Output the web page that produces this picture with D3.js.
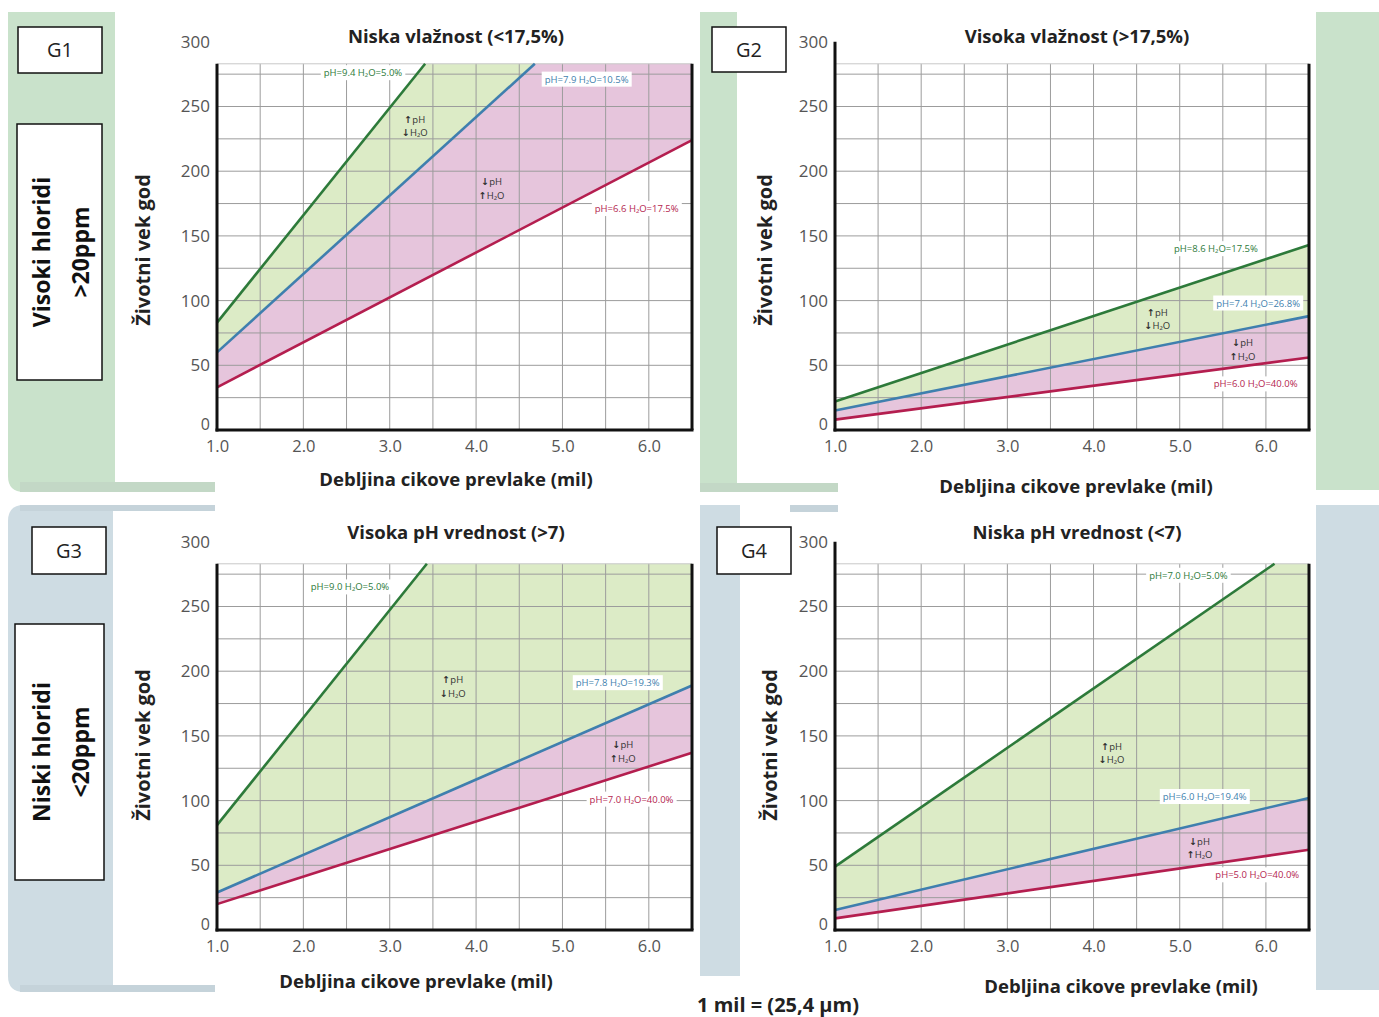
<!DOCTYPE html>
<html><head><meta charset="utf-8">
<script src="https://cdn.jsdelivr.net/npm/d3@7"></script>
<style>
html,body{margin:0;padding:0;background:#fff;}
svg text{font-family:"Open Sans","Noto Sans",sans-serif;}
</style></head>
<body>
<svg id="chart" width="1379" height="1017"></svg>
<script>
// ---------- DATA ----------
const panelIds = ["G1", "G2", "G3", "G4"];
const panelTitles = ["Niska vlažnost (<17,5%)", "Visoka vlažnost (>17,5%)", "Visoka pH vrednost (>7)", "Niska pH vrednost (<7)"];
const xTickValues = [1.0, 2.0, 3.0, 4.0, 5.0, 6.0];
const yTickValues = [0, 50, 100, 150, 200, 250, 300];
const xAxisTitle = "Debljina cikove prevlake (mil)";
const yAxisTitle = "Životni vek god";
const rowLabels = [["Visoki hloridi", ">20ppm"], ["Niski hloridi", "<20ppm"]];
const footnote = "1 mil = (25,4 μm)";

// line end points [thickness mil, life years]
const greenLines = [[[1.0, 83], [3.41, 283]], [[1.0, 22], [6.5, 143]], [[1.0, 81], [3.43, 283]], [[1.0, 49], [6.1, 283]]];
const blueLines  = [[[1.0, 60], [4.68, 283]], [[1.0, 15], [6.5, 88]],  [[1.0, 29], [6.5, 189]], [[1.0, 15.5], [6.5, 102]]];
const redLines   = [[[1.0, 33], [6.5, 224]],  [[1.0, 8], [6.5, 56]],   [[1.0, 20], [6.5, 137]], [[1.0, 9], [6.5, 62]]];

const greenLabels = ["pH=9.4 H₂O=5.0%", "pH=8.6 H₂O=17.5%", "pH=9.0 H₂O=5.0%", "pH=7.0 H₂O=5.0%"];
const blueLabels  = ["pH=7.9 H₂O=10.5%", "pH=7.4 H₂O=26.8%", "pH=7.8 H₂O=19.3%", "pH=6.0 H₂O=19.4%"];
const redLabels   = ["pH=6.6 H₂O=17.5%", "pH=6.0 H₂O=40.0%", "pH=7.0 H₂O=40.0%", "pH=5.0 H₂O=40.0%"];
const upRegionText = [["↑", "pH"], ["↓", "H₂O"]];
const downRegionText = [["↓", "pH"], ["↑", "H₂O"]];

// ---------- LAYOUT (positions in data units / pixels) ----------
const layout = [
  {left:217, right:692, y0:430, axisTopVal:283, titleX:456, titleY:37, xtX:456, xtY:480, ytX:143, ytY:250,
   gl:[2.69,276], bl:[5.28,271], rl:[5.86,171], up:[3.29,236], dn:[4.18,188]},
  {left:835, right:1309, y0:430, axisTopVal:300, titleX:1077, titleY:37, xtX:1076, xtY:487, ytX:765, ytY:250,
   gl:[5.42,140], bl:[5.91,98], rl:[5.88,35.5], up:[4.74,87], dn:[5.73,63.5]},
  {left:217, right:692, y0:930, axisTopVal:283, titleX:456, titleY:533, xtX:416, xtY:982, ytX:143, ytY:745,
   gl:[2.54,265], bl:[5.64,191], rl:[5.80,101], up:[3.73,189.5], dn:[5.70,139]},
  {left:835, right:1309, y0:930, axisTopVal:300, titleX:1077, titleY:533, xtX:1121, xtY:987, ytX:770, ytY:745,
   gl:[5.10,274], bl:[5.29,103], rl:[5.90,42.5], up:[4.21,138], dn:[5.23,64.5]}
];
const PLOT_TOP = 283, X_MIN = 1.0, X_MAX = 6.5, PX_PER_YEAR = 1.294;

const C = {green:"#2d7a3a", blue:"#3f7fae", red:"#b41e4f", fillG:"#dcebc6", fillP:"#e6c5dc",
           grid:"#9c9c9c", bgG:"#c9e2cb", bgG2:"#c3d8c6", bgB:"#cedce3", bgB2:"#c5d3da"};

const svg = d3.select("#chart");

// ---------- BACKGROUND ----------
const bg = svg.append("g");
function roundedPath(x, y, w, h, rtl, rbl) {
  return `M${x+rtl},${y} H${x+w} V${y+h} H${x+rbl} Q${x},${y+h} ${x},${y+h-rbl} V${y+rtl} Q${x},${y} ${x+rtl},${y} Z`;
}
bg.append("path").attr("d", roundedPath(8, 12, 107, 480, 0, 16)).attr("fill", C.bgG);
bg.append("rect").attr("x", 20).attr("y", 482).attr("width", 195).attr("height", 10).attr("fill", C.bgG2);
bg.append("rect").attr("x", 700).attr("y", 12).attr("width", 37).attr("height", 480).attr("fill", C.bgG);
bg.append("rect").attr("x", 700).attr("y", 483).attr("width", 138).attr("height", 9).attr("fill", C.bgG2);
bg.append("rect").attr("x", 1316).attr("y", 12).attr("width", 63).attr("height", 478).attr("fill", C.bgG);
bg.append("path").attr("d", roundedPath(8, 505, 105, 487, 16, 16)).attr("fill", C.bgB);
bg.append("rect").attr("x", 20).attr("y", 505).attr("width", 195).attr("height", 6).attr("fill", C.bgB2);
bg.append("rect").attr("x", 20).attr("y", 985).attr("width", 195).attr("height", 7).attr("fill", C.bgB2);
bg.append("rect").attr("x", 700).attr("y", 505).attr("width", 40).attr("height", 471).attr("fill", C.bgB);
bg.append("rect").attr("x", 790).attr("y", 505).attr("width", 48).attr("height", 7).attr("fill", C.bgB2);
bg.append("rect").attr("x", 1316).attr("y", 505).attr("width", 63).attr("height", 485).attr("fill", C.bgB);

// ---------- BOXES ----------
const gBoxes = [[18,27,84,46],[712,27,74,45],[32,527,74,47],[717,527,74,47]];
gBoxes.forEach((b, i) => {
  svg.append("rect").attr("x", b[0]).attr("y", b[1]).attr("width", b[2]).attr("height", b[3])
    .attr("fill", "#fff").attr("stroke", "#111").attr("stroke-width", 1.5);
  svg.append("text").attr("x", b[0] + b[2]/2).attr("y", b[1] + b[3]/2).attr("dy", "0.35em")
    .attr("text-anchor", "middle").attr("font-size", 20).attr("fill", "#222").text(panelIds[i]);
});
const rowBoxes = [[17,124,85,256],[15,624,89,256]];
rowBoxes.forEach((b, i) => {
  svg.append("rect").attr("x", b[0]).attr("y", b[1]).attr("width", b[2]).attr("height", b[3])
    .attr("fill", "#fff").attr("stroke", "#111").attr("stroke-width", 1.5);
  const cx = b[0] + b[2]/2, cy = b[1] + b[3]/2;
  const t = svg.append("text").attr("transform", `translate(${cx},${cy}) rotate(-90)`)
    .attr("text-anchor", "middle").attr("font-size", 23).attr("font-weight", "bold").attr("fill", "#111");
  t.append("tspan").attr("x", 0).attr("y", -10).text(rowLabels[i][0]);
  t.append("tspan").attr("x", 0).attr("y", 29).text(rowLabels[i][1]);
});

// ---------- PANELS ----------
panelIds.forEach((id, i) => {
  const L = layout[i];
  const x = d3.scaleLinear().domain([X_MIN, X_MAX]).range([L.left, L.right]);
  const y = d3.scaleLinear().domain([0, 300]).range([L.y0, L.y0 - 300 * PX_PER_YEAR]);
  const g = svg.append("g");

  g.append("rect").attr("x", x(X_MIN)).attr("y", y(PLOT_TOP)).attr("width", x(X_MAX) - x(X_MIN))
    .attr("height", y(0) - y(PLOT_TOP)).attr("fill", "#fff");

  function region(upper, lower) {
    const pts = [lower[0], lower[1], [X_MAX, PLOT_TOP], upper[1], upper[0]];
    return d3.line().x(d => x(d[0])).y(d => y(d[1]))(pts) + "Z";
  }
  g.append("path").attr("d", region(greenLines[i], blueLines[i])).attr("fill", C.fillG);
  g.append("path").attr("d", region(blueLines[i], redLines[i])).attr("fill", C.fillP);

  const xGrid = d3.range(1.5, 6.01, 0.5);
  const yGrid = d3.range(25, 276, 25);
  g.append("g").selectAll("line").data(xGrid).join("line")
    .attr("x1", d => x(d)).attr("x2", d => x(d)).attr("y1", y(PLOT_TOP)).attr("y2", y(0))
    .attr("stroke", C.grid).attr("stroke-width", 1);
  g.append("g").selectAll("line").data(yGrid).join("line")
    .attr("x1", x(X_MIN)).attr("x2", x(X_MAX)).attr("y1", d => y(d)).attr("y2", d => y(d))
    .attr("stroke", C.grid).attr("stroke-width", 1);
  g.append("line").attr("x1", x(X_MIN)).attr("x2", x(X_MAX)).attr("y1", y(PLOT_TOP)).attr("y2", y(PLOT_TOP))
    .attr("stroke", "#c8c8c8").attr("stroke-width", 1);

  const lineGen = d3.line().x(d => x(d[0])).y(d => y(d[1]));
  [[greenLines[i], C.green], [blueLines[i], C.blue], [redLines[i], C.red]].forEach(([pts, col]) => {
    g.append("path").attr("d", lineGen(pts)).attr("fill", "none").attr("stroke", col)
      .attr("stroke-width", 2.6);
  });

  const yAx = d3.axisLeft(y).tickValues(yTickValues).tickSize(0).tickPadding(7);
  const ya = g.append("g").attr("transform", `translate(${x(X_MIN)},0)`).call(yAx);
  ya.select(".domain").remove();
  ya.selectAll("text").attr("font-size", 17).attr("fill", "#555").attr("font-family", "'Open Sans',sans-serif");
  ya.selectAll(".tick").filter(d => d === 0).select("text").attr("dy", "-0.05em").attr("x", -7).attr("font-size", 16);

  const xAx = d3.axisBottom(x).tickValues(xTickValues).tickFormat(d3.format(".1f")).tickSize(0).tickPadding(10);
  const xa = g.append("g").attr("transform", `translate(0,${y(0)})`).call(xAx);
  xa.select(".domain").remove();
  xa.selectAll("text").attr("font-size", 16.5).attr("fill", "#555").attr("font-family", "'Open Sans',sans-serif");

  g.append("line").attr("x1", x(X_MIN)).attr("x2", x(X_MIN)).attr("y1", y(L.axisTopVal)).attr("y2", y(0) + 1.5)
    .attr("stroke", "#111").attr("stroke-width", 3);
  g.append("line").attr("x1", x(X_MIN) - 1.5).attr("x2", x(X_MAX) + 1.5).attr("y1", y(0)).attr("y2", y(0))
    .attr("stroke", "#111").attr("stroke-width", 3);
  g.append("line").attr("x1", x(X_MAX)).attr("x2", x(X_MAX)).attr("y1", y(PLOT_TOP)).attr("y2", y(0))
    .attr("stroke", "#111").attr("stroke-width", 3);

  function lineLabel(pos, txt, col) {
    const lg = g.append("g").attr("transform", `translate(${x(pos[0])},${y(pos[1])})`);
    const t = lg.append("text").attr("text-anchor", "middle").attr("dy", "0.35em")
      .attr("font-size", 9.5).attr("fill", col).text(txt);
    const bb = t.node().getBBox();
    lg.insert("rect", "text").attr("x", bb.x - 3).attr("y", bb.y - 1).attr("width", bb.width + 6)
      .attr("height", bb.height + 2).attr("fill", "#fff");
  }
  lineLabel(L.gl, greenLabels[i], C.green);
  lineLabel(L.bl, blueLabels[i], C.blue);
  lineLabel(L.rl, redLabels[i], C.red);

  function regionLabel(pos, lines) {
    const t = g.append("text").attr("x", x(pos[0])).attr("y", y(pos[1]))
      .attr("text-anchor", "middle").attr("font-size", 9.5).attr("fill", "#333");
    lines.forEach((ln, k) => {
      const s = t.append("tspan").attr("x", x(pos[0])).attr("dy", k === 0 ? "-0.2em" : "1.45em");
      s.append("tspan").attr("font-family", "'DejaVu Sans',sans-serif").attr("font-weight", "bold").text(ln[0]);
      s.append("tspan").text(ln[1]);
    });
  }
  regionLabel(L.up, upRegionText);
  regionLabel(L.dn, downRegionText);

  svg.append("text").attr("x", L.titleX).attr("y", L.titleY).attr("dy", "0.35em").attr("text-anchor", "middle")
    .attr("font-size", 18.5).attr("font-weight", "bold").attr("fill", "#222").text(panelTitles[i]);
  svg.append("text").attr("x", L.xtX).attr("y", L.xtY).attr("dy", "0.35em").attr("text-anchor", "middle")
    .attr("font-size", 18.5).attr("font-weight", "bold").attr("fill", "#222").text(xAxisTitle);
  svg.append("text").attr("transform", `translate(${L.ytX},${L.ytY}) rotate(-90)`).attr("dy", "0.35em")
    .attr("text-anchor", "middle").attr("font-size", 20).attr("font-weight", "bold").attr("fill", "#222").text(yAxisTitle);
});

svg.append("text").attr("x", 778).attr("y", 1005).attr("dy", "0.35em").attr("text-anchor", "middle")
  .attr("font-size", 20).attr("font-weight", "bold").attr("fill", "#222").text(footnote);
</script>
</body></html>
